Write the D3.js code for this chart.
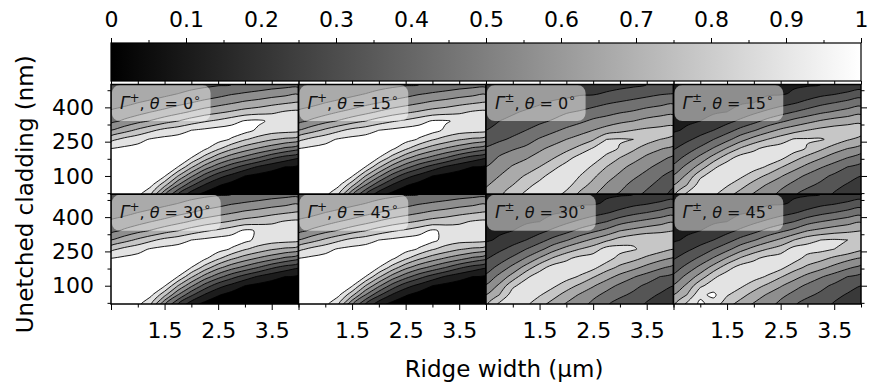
<!DOCTYPE html>
<html>
<head>
<meta charset="utf-8">
<script src="https://cdn.jsdelivr.net/npm/d3@7"></script>
<style>
  body { margin: 0; background: #fff; }
  text { font-family: "DejaVu Sans", sans-serif; }
</style>
</head>
<body>
<div id="chart"></div>
<script>
// grid of the simulation: ridge width (um) across, unetched cladding (nm) down
const ridgeWidth = [0.5, 0.75, 1, 1.25, 1.5, 1.75, 2, 2.25, 2.5, 2.75, 3, 3.25, 3.5, 3.75, 4];
const cladding = [500, 460, 420, 380, 340, 300, 260, 220, 180, 140, 100, 60, 20];
const levels = [0, 0.1, 0.2, 0.3, 0.4, 0.5, 0.6, 0.7, 0.8, 0.9];
const colorbarTicks = [0, 0.1, 0.2, 0.3, 0.4, 0.5, 0.6, 0.7, 0.8, 0.9, 1];
const xTicks = [1.5, 2.5, 3.5];
const yTicks = [100, 250, 400];

// values in percent, one row per cladding value
const gammaPlus0 = [
  32,32,32,33,34,35,37,38,39,40,42,43,45,46,46,
  35,34,35,36,38,40,42,44,46,49,51,53,55,57,59,
  37,38,40,42,44,47,50,53,56,59,62,64,67,69,71,
  41,43,46,50,53,57,61,65,68,71,74,76,78,81,82,
  47,52,57,61,66,70,75,79,82,86,91,92,88,86,86,
  60,66,72,78,83,86,90,92,94,95,94,88,85,84,83,
  77,83,87,91,93,94,95,96,94,89,81,76,71,68,65,
  90,92,93,95,96,96,95,92,82,72,65,59,54,48,43,
  94,95,96,97,97,95,90,76,63,54,47,40,32,26,21,
  96,97,97,97,95,90,72,56,44,34,26,19,14,10,8,
  97,97,97,96,91,70,52,36,24,17,10,7,5,4,3,
  97,97,96,92,73,50,32,19,11,6,4,3,2,1,1,
  96,96,93,80,51,30,14,7,3,2,1,1,1,0,0
];
const gammaPlus15 = [
  32,32,32,33,34,35,37,38,39,40,42,43,45,46,46,
  35,34,35,36,38,40,42,44,46,49,51,53,55,57,59,
  37,38,40,42,44,47,50,53,56,59,62,64,67,69,71,
  41,43,46,50,53,57,61,65,68,71,74,76,78,81,82,
  47,52,57,61,66,70,75,79,82,86,91,91,88,86,86,
  60,66,72,78,83,86,90,92,94,95,94,88,85,84,83,
  77,83,87,91,93,94,95,96,94,89,81,76,71,68,65,
  90,92,93,95,96,96,95,92,82,72,65,59,54,48,43,
  94,95,96,97,97,95,90,76,63,54,47,40,32,26,21,
  96,97,97,97,95,90,72,56,44,34,26,19,14,10,8,
  97,97,97,96,91,70,52,36,24,17,10,7,5,4,3,
  97,97,96,92,73,50,32,19,11,6,4,3,2,1,1,
  96,96,93,80,51,30,14,7,3,2,1,1,1,0,0
];
const gammaPlus30 = [
  32,32,32,33,34,35,37,38,39,40,42,43,45,46,46,
  35,34,35,36,38,40,42,44,46,49,51,53,55,57,59,
  37,38,40,42,44,47,50,53,56,59,62,64,67,69,71,
  41,43,46,50,53,57,61,65,68,71,74,76,78,81,82,
  47,52,57,61,66,70,75,79,82,86,92,89,86,85,85,
  60,66,72,78,83,86,90,92,94,95,93,87,85,84,83,
  77,83,87,91,93,94,95,96,94,89,81,76,71,68,65,
  90,92,93,95,96,96,95,92,82,72,65,59,54,48,43,
  94,95,96,97,97,95,90,76,63,54,47,40,32,26,21,
  96,97,97,97,95,90,72,56,44,34,26,19,14,10,8,
  97,97,97,96,91,70,52,36,24,17,10,7,5,4,3,
  97,97,96,92,73,50,32,19,11,6,4,3,2,1,1,
  96,96,93,80,51,30,14,7,3,2,1,1,1,0,0
];
const gammaPlus45 = [
  32,32,32,33,34,35,37,38,39,40,42,43,45,46,46,
  35,34,35,36,38,40,42,44,46,49,51,53,55,57,59,
  37,38,40,42,44,47,50,53,56,59,62,64,67,69,71,
  41,43,46,50,53,57,61,65,68,71,74,76,78,81,82,
  47,52,57,61,66,70,75,79,82,86,92,87,85,85,85,
  60,66,72,78,83,86,90,92,94,95,93,86,84,84,83,
  77,83,87,91,93,94,95,96,94,89,81,76,71,68,65,
  90,92,93,95,96,96,95,92,82,72,65,59,54,48,43,
  94,95,96,97,97,95,90,76,63,54,47,40,32,26,21,
  96,97,97,97,95,90,72,56,44,34,26,19,14,10,8,
  97,97,97,96,91,70,52,36,24,17,10,7,5,4,3,
  97,97,96,92,73,50,32,19,11,6,4,3,2,1,1,
  96,96,93,80,51,30,14,7,3,2,1,1,1,0,0
];
const gammaPm0 = [
  21,21,22,23,24,25,25,26,26,26,27,28,30,31,33,
  22,23,24,25,26,27,28,29,29,31,33,35,37,39,40,
  24,25,26,27,29,31,32,34,36,39,41,43,45,47,49,
  26,27,29,31,33,36,39,41,44,46,49,51,54,56,57,
  28,30,32,35,38,41,45,48,52,55,58,60,63,65,67,
  30,33,36,40,44,48,52,56,60,64,67,70,72,73,73,
  35,38,42,46,51,55,60,64,69,80,81,80,75,70,68,
  41,46,49,52,58,63,67,73,81,85,79,72,65,61,57,
  45,51,55,59,64,69,76,84,86,77,70,64,58,53,48,
  50,55,61,65,70,77,84,87,78,70,63,57,52,47,42,
  55,60,66,71,77,84,87,80,72,64,58,52,47,41,36,
  59,64,70,77,83,87,84,74,67,59,53,47,42,37,31,
  63,68,75,82,86,85,77,68,62,53,49,43,38,33,27
];
const gammaPm15 = [
  12,13,14,15,16,17,17,18,18,19,19,20,20,21,24,
  13,14,15,16,17,18,19,19,19,21,24,27,29,32,35,
  15,16,17,18,18,19,20,23,26,29,33,37,40,43,46,
  16,17,19,19,20,24,28,32,36,40,44,48,51,54,57,
  18,19,20,23,27,32,37,43,48,53,57,61,64,66,68,
  19,21,26,30,36,43,49,56,62,66,70,73,75,76,75,
  23,28,33,40,47,56,64,70,75,81,81,81,77,71,67,
  29,35,42,51,61,71,78,83,85,85,79,72,65,60,56,
  35,43,53,64,76,84,85,86,83,74,67,61,55,50,45,
  42,53,64,78,85,87,84,79,71,64,57,51,46,40,37,
  51,62,78,85,87,82,75,68,61,54,48,43,38,34,30,
  60,70,85,86,81,74,66,59,53,47,42,38,33,29,26,
  68,82,86,82,74,66,59,55,47,41,36,34,29,25,22
];
const gammaPm30 = [
  12,13,14,15,16,17,17,18,18,19,19,20,20,21,24,
  13,14,15,16,17,18,19,19,19,21,24,27,29,32,35,
  15,16,17,18,18,19,20,23,26,29,33,37,40,43,46,
  16,17,19,19,20,24,28,32,36,40,46,50,53,56,59,
  18,19,20,23,27,32,37,43,48,53,60,63,66,68,70,
  19,21,26,30,36,43,49,56,62,68,74,78,80,78,77,
  23,28,33,40,47,56,64,70,75,84,84,81,77,74,70,
  29,35,42,51,61,71,78,83,85,85,76,73,68,63,59,
  35,43,53,64,76,84,85,86,83,74,68,63,57,52,47,
  42,53,64,78,85,87,84,79,71,64,57,51,46,40,37,
  51,62,78,85,87,82,75,68,61,54,48,43,38,34,30,
  60,70,85,86,81,74,66,59,53,47,42,38,33,29,26,
  68,82,86,82,74,66,59,55,47,41,36,34,29,25,22
];
const gammaPm45 = [
  12,13,14,15,16,17,17,18,18,19,19,20,20,21,24,
  13,14,15,16,17,18,19,19,19,21,24,27,29,32,35,
  15,16,17,18,18,19,20,23,26,29,33,37,40,43,46,
  16,17,19,19,20,24,28,32,36,40,46,50,53,56,59,
  18,19,20,23,27,32,37,43,48,53,60,63,66,68,70,
  19,21,26,30,36,43,49,56,62,70,76,80,81,80,78,
  23,28,33,40,47,56,64,70,75,84,85,83,80,78,72,
  29,35,42,51,61,71,78,83,85,85,76,73,68,63,59,
  35,43,53,64,76,84,85,86,83,74,68,63,57,52,47,
  42,53,64,78,85,87,84,79,71,64,57,51,46,40,37,
  51,62,78,85,87,82,75,68,61,54,48,43,38,34,30,
  60,70,88,92,81,74,66,59,53,47,42,38,33,29,26,
  68,82,92,86,74,66,59,55,47,41,36,34,29,25,22
];

const panelGrids = [gammaPlus0, gammaPlus15, gammaPm0, gammaPm15, gammaPlus30, gammaPlus45, gammaPm30, gammaPm45];
const panelSigns = ["+", "+", "±", "±", "+", "+", "±", "±"];
const panelThetas = [0, 15, 0, 15, 30, 45, 30, 45];

const width = 871, height = 385;
const plotLeft = 111, plotRight = 861, plotTop = 84.5, plotBottom = 304;
const nCols = 4, nRows = 2;
const panelW = (plotRight - plotLeft) / nCols;
const panelH = (plotBottom - plotTop) / nRows;
const fontSize = 22;

const svg = d3.select("#chart").append("svg")
  .attr("width", width)
  .attr("height", height);
const defs = svg.append("defs");

const gray = d3.scaleLinear().domain([0, 1]).range(["#000", "#fff"]);
const x = d3.scaleLinear().domain([0.5, 4]).range([0, panelW]);
const y = d3.scaleLinear().domain([20, 500]).range([panelH, 0]);

// contour grid index -> data coordinates
const gx = d3.scaleLinear().domain([0.5, ridgeWidth.length - 0.5]).range([ridgeWidth[0], ridgeWidth[ridgeWidth.length - 1]]);
const gy = d3.scaleLinear().domain([0.5, cladding.length - 0.5]).range([cladding[0], cladding[cladding.length - 1]]);
const contours = d3.contours().size([ridgeWidth.length, cladding.length]).thresholds(levels);

// rings drawn as closed smooth curves
const ringLine = d3.line().curve(d3.curveCatmullRomClosed.alpha(0.5));
function bandPath(band) {
  return band.coordinates.map(poly => poly.map(ring =>
    ringLine(ring.slice(0, -1).map(p => [x(gx(p[0])), y(gy(p[1]))]))
  ).join("")).join("");
}

function styleAxis(g) {
  g.select(".domain").remove();
  g.attr("font-size", fontSize).attr("font-family", "DejaVu Sans");
  g.selectAll("line").attr("stroke", "#000").attr("stroke-width", 1);
  g.selectAll("text").attr("fill", "#000");
}

const xMinor = [1, 2, 3, 4];
const yMinor = [25, 175, 325, 475];

panelGrids.forEach(function(grid, k) {
  const col = k % nCols, row = Math.floor(k / nCols);
  const g = svg.append("g")
    .attr("transform", `translate(${plotLeft + col * panelW},${plotTop + row * panelH})`);

  defs.append("clipPath").attr("id", "clip" + k)
    .append("rect").attr("width", panelW).attr("height", panelH);
  const body = g.append("g").attr("clip-path", `url(#clip${k})`);

  // each band gets one step of the grey ramp, black at the bottom, white on top
  const bands = contours(grid.map(v => v / 100));
  body.selectAll("path.band").data(bands).join("path")
    .attr("class", "band")
    .attr("d", bandPath)
    .attr("fill-rule", "evenodd")
    .attr("fill", (d, i) => gray(i / (levels.length - 1)));
  body.selectAll("path.line").data(bands.filter(d => d.value > 0)).join("path")
    .attr("class", "line")
    .attr("d", bandPath)
    .attr("fill", "none")
    .attr("stroke", "#000")
    .attr("stroke-width", 0.9);

  // label in a rounded translucent box
  const box = g.append("rect").attr("x", 0.8).attr("y", 0.6).attr("rx", 8).attr("ry", 8)
    .attr("fill", "#fff").attr("fill-opacity", 0.5);
  const label = g.append("text").attr("x", 9).attr("y", 24)
    .attr("font-size", 16).attr("fill", "#111");
  label.append("tspan").attr("font-style", "italic").attr("font-size", 17).text("Γ");
  label.append("tspan").attr("font-size", 12).attr("dy", -7).text(panelSigns[k]);
  label.append("tspan").attr("dy", 7).text(", ");
  label.append("tspan").attr("font-style", "italic").text("θ");
  label.append("tspan").text(" = " + panelThetas[k]);
  label.append("tspan").attr("font-size", 12).attr("dy", -7).text("∘");
  const bb = label.node().getBBox();
  box.attr("width", bb.x + bb.width + 9).attr("height", 36);

  g.append("rect")
    .attr("width", panelW).attr("height", panelH)
    .attr("fill", "none").attr("stroke", "#000").attr("stroke-width", 1.5);

  if (col === 0) {
    g.append("g").call(d3.axisLeft(y).tickValues(yTicks).tickSize(6).tickPadding(11).tickFormat(d3.format("d"))).call(styleAxis);
    g.append("g").call(d3.axisLeft(y).tickValues(yMinor).tickSize(3.5).tickFormat("")).call(styleAxis);
  }
  if (col === nCols - 1) {
    g.append("g").attr("transform", `translate(${panelW},0)`)
      .call(d3.axisRight(y).tickValues(yTicks).tickSize(6).tickFormat("")).call(styleAxis);
    g.append("g").attr("transform", `translate(${panelW},0)`)
      .call(d3.axisRight(y).tickValues(yMinor).tickSize(3.5).tickFormat("")).call(styleAxis);
  }
  if (row === nRows - 1) {
    g.append("g").attr("transform", `translate(0,${panelH})`)
      .call(d3.axisBottom(x).tickValues([0.5].concat(xTicks)).tickSize(6).tickPadding(12)
        .tickFormat(d => xTicks.includes(d) ? d3.format(".1f")(d) : ""))
      .call(styleAxis);
    g.append("g").attr("transform", `translate(0,${panelH})`)
      .call(d3.axisBottom(x).tickValues(xMinor).tickSize(3.5).tickFormat("")).call(styleAxis);
  }
  if (row === 0) {
    g.append("g").call(d3.axisTop(x).tickValues([0.5].concat(xTicks)).tickSize(6).tickFormat("")).call(styleAxis);
    g.append("g").call(d3.axisTop(x).tickValues(xMinor).tickSize(3.5).tickFormat("")).call(styleAxis);
  }
});

// colorbar
const cbTop = 43, cbHeight = 38;
const cbScale = d3.scaleLinear().domain([0, 1]).range([0, plotRight - plotLeft]);
const grad = defs.append("linearGradient").attr("id", "cbGrad");
grad.append("stop").attr("offset", "0%").attr("stop-color", gray(0));
grad.append("stop").attr("offset", "100%").attr("stop-color", gray(1));
const cb = svg.append("g").attr("transform", `translate(${plotLeft},${cbTop})`);
cb.append("rect")
  .attr("width", plotRight - plotLeft).attr("height", cbHeight)
  .attr("fill", "url(#cbGrad)").attr("stroke", "#000").attr("stroke-width", 1.2);
cb.append("g")
  .call(d3.axisTop(cbScale).tickValues(colorbarTicks).tickSize(5).tickPadding(11).tickFormat(d3.format("~g")))
  .call(styleAxis);
cb.append("g")
  .call(d3.axisTop(cbScale).tickValues(d3.pairs(colorbarTicks, (a, b) => (a + b) / 2)).tickSize(3).tickFormat(""))
  .call(styleAxis);

// axis titles
svg.append("text")
  .attr("x", 504).attr("y", 377)
  .attr("text-anchor", "middle").attr("font-size", 23)
  .text("Ridge width (µm)");
svg.append("text")
  .attr("transform", `translate(33,${(plotTop + plotBottom) / 2}) rotate(-90)`)
  .attr("text-anchor", "middle").attr("font-size", 23)
  .text("Unetched cladding (nm)");
</script>
</body>
</html>
